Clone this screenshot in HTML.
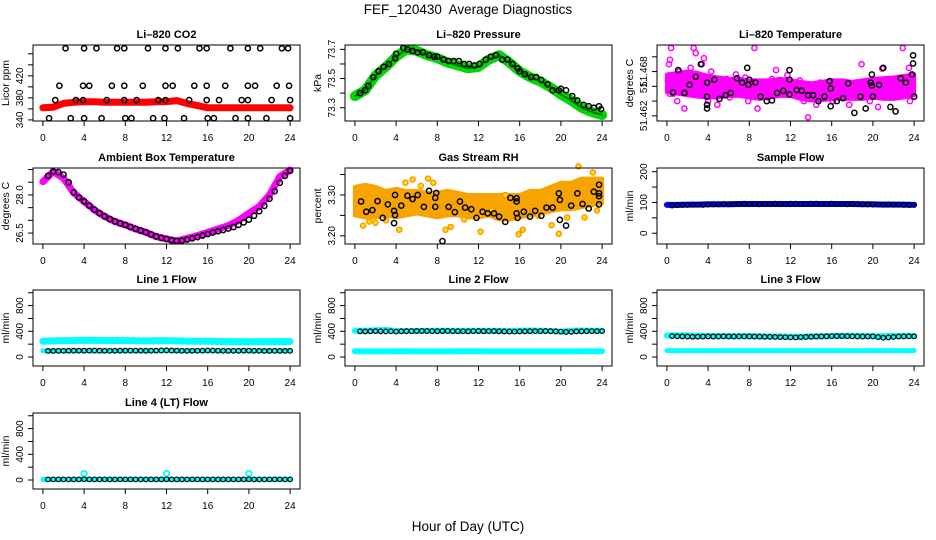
<!DOCTYPE html>
<html><head><meta charset="utf-8"><style>
html,body{margin:0;padding:0;background:#fff;}
svg{display:block;font-family:"Liberation Sans",Arial,sans-serif;}
</style></head><body>
<svg id="chart" width="936" height="540" viewBox="0 0 936 540">
<rect x="0" y="0" width="936" height="540" fill="#fff"/>
<text x="468" y="14" text-anchor="middle" font-size="13.5">FEF_120430&#160; Average Diagnostics</text>
<text x="468" y="531" text-anchor="middle" font-size="13.5">Hour of Day (UTC)</text>
</svg>
<script>
// ---- data ----
const hourT = [0,1,2,3,4,5,6,7,8,9,10,11,12,13,14,15,16,17,18,19,20,21,22,23,24];
const halfT = [0.5,1,1.5,2,2.5,3,3.5,4,4.5,5,5.5,6,6.5,7,7.5,8,8.5,9,9.5,10,10.5,11,11.5,12,12.5,13,13.5,14,14.5,15,15.5,16,16.5,17,17.5,18,18.5,19,19.5,20,20.5,21,21.5,22,22.5,23,23.5,24];
const xTicks = [0,4,8,12,16,20,24];

const co2Red = [362,363,370,372,373,373,372,372,372,372,372,373,373,375,370,366,362,362,362,362,362,362,362,362,362];
const co2BlackX = [2.2,4.0,5.2,7.2,7.9,10.2,11.9,13.1,15.2,15.9,18.2,19.9,21.1,23.2,23.8,
 1.6,3.9,4.5,6.7,7.9,9.7,11.9,12.6,14.7,15.9,17.7,19.9,20.6,22.7,23.9,
 1.2,3.2,3.9,6.2,7.9,9.1,11.2,11.9,14.2,15.9,17.1,19.3,19.9,22.2,24.0,
 0.6,2.7,4.0,5.7,8.0,8.6,10.7,11.8,13.7,16.0,16.6,18.7,19.9,21.7,24.0];
const co2BlackY = [470,470,470,470,470,470,470,470,470,470,470,470,470,470,470,
 402,402,402,402,402,402,402,402,402,402,402,402,402,402,402,
 376,376,376,376,376,376,376,376,376,376,376,376,376,376,376,
 343,343,343,343,343,343,343,343,343,343,343,343,343,343,343];

const pressGreen = [73.38,73.42,73.52,73.58,73.65,73.70,73.69,73.66,73.64,73.61,73.59,73.57,73.58,73.63,73.66,73.61,73.55,73.51,73.48,73.44,73.39,73.35,73.30,73.27,73.25];
const pressBlackX = [0.5,1,1.3,1.8,2.3,2.8,3.3,3.9,4,4.7,5.1,5.6,6.1,6.6,7.2,7.7,8,8.6,9.1,9.6,10.1,10.6,11.1,11.6,12.1,12.7,13.2,13.7,14.3,14.8,15.3,15.8,16,16.5,17.1,17.6,18.1,18.7,19.2,19.8,20,20.5,21.1,21.6,22.2,22.7,23.2,23.7,23.9];
const pressBlackY = [73.40,73.42,73.45,73.51,73.55,73.58,73.60,73.64,73.67,73.71,73.70,73.69,73.68,73.68,73.66,73.65,73.65,73.63,73.62,73.62,73.62,73.60,73.60,73.59,73.60,73.63,73.65,73.66,73.63,73.63,73.60,73.57,73.55,73.53,73.51,73.51,73.49,73.46,73.42,73.42,73.43,73.42,73.38,73.35,73.32,73.31,73.30,73.31,73.29];

const tempUpper = [51.4676,51.4678,51.4680,51.4678,51.4674,51.4672,51.4670,51.4670,51.4668,51.4668,51.4668,51.4670,51.4668,51.4666,51.4664,51.4666,51.4668,51.4668,51.4666,51.4668,51.4670,51.4671,51.4672,51.4674,51.4676];
const tempLower = [51.4652,51.4650,51.4648,51.4646,51.4645,51.4645,51.4647,51.4647,51.4645,51.4643,51.4645,51.4647,51.4647,51.4643,51.4641,51.4641,51.4643,51.4643,51.4643,51.4643,51.4645,51.4643,51.4643,51.4645,51.4648];
const tempMagX = [0.1,0.2,0.3,0.4,0.5,0.6,0.8,1,1.2,1.5,1.7,1.9,2.1,2.3,2.6,2.8,3,3.2,3.4,3.6,3.8,4,4.3,4.6,4.9,5.2,5.5,5.8,6.1,6.4,6.7,7,7.3,7.6,7.9,8.2,8.5,8.8,9.1,9.4,9.8,10.2,10.6,11,11.3,11.7,12.1,12.5,12.9,13.3,13.7,14.1,14.5,14.9,15.3,15.7,16.1,16.5,16.9,17.3,17.7,18.1,18.5,18.9,19.3,19.7,20.1,20.5,20.9,21.3,21.7,22.1,22.5,22.9,23.2,23.5,23.8,23.6,0.3];
const tempMagY = [51.4668,51.4690,51.4696,51.4712,51.4660,51.4650,51.4672,51.4640,51.4680,51.4655,51.4630,51.4662,51.4675,51.4685,51.4712,51.4705,51.4670,51.4648,51.4690,51.4698,51.4660,51.4640,51.4680,51.4652,51.4635,51.4666,51.4658,51.4670,51.4645,51.4662,51.4676,51.4650,51.4664,51.4672,51.4640,51.4660,51.4712,51.4630,51.4650,51.4662,51.4645,51.4670,51.4682,51.4668,51.4650,51.4675,51.4660,51.4648,51.4668,51.4640,51.4618,51.4660,51.4635,51.4665,51.4650,51.4663,51.4640,51.4657,51.4648,51.4665,51.4635,51.4660,51.4645,51.4690,51.4655,51.4640,51.4668,51.4632,51.4684,51.4658,51.4645,51.4666,51.4650,51.4712,51.4670,51.4685,51.4660,51.4640,51.4650];
const tempBlackX = [0.6,1.1,1.7,2.2,2.8,3.3,3.9,3.9,3.9,3.9,4.6,5.1,5.7,6.2,6.8,7.3,7.8,7.9,8.0,8.6,9.1,9.7,10.2,10.7,11.3,11.9,11.9,11.9,12.6,13.1,13.7,14.2,14.7,15.3,15.8,15.9,15.9,16.5,17.1,17.6,18.2,18.8,19.3,19.9,19.8,19.9,20.0,20.6,21.0,21.7,22.2,22.7,23.2,23.8,23.9,23.9,24.0];
const tempBlackY = [51.4652,51.4682,51.4651,51.4662,51.4673,51.4690,51.4646,51.4635,51.4630,51.4665,51.4669,51.4643,51.4648,51.4651,51.4671,51.4665,51.4685,51.4662,51.4669,51.4665,51.4646,51.4640,51.4641,51.4651,51.4654,51.4669,51.4682,51.4649,51.4655,51.4654,51.4648,51.4648,51.4640,51.4646,51.4667,51.4657,51.4633,51.4640,51.4644,51.4664,51.4624,51.4646,51.4630,51.4676,51.4665,51.4661,51.4646,51.4662,51.4685,51.4632,51.4626,51.4671,51.4665,51.4676,51.4691,51.4702,51.4646];

const ambMagenta = [28.52,28.92,28.66,28.08,27.74,27.41,27.15,26.95,26.82,26.66,26.53,26.36,26.27,26.19,26.29,26.40,26.53,26.66,26.79,27.00,27.28,27.54,28.00,28.72,28.98];
const ambBlack = [28.75,28.92,28.90,28.80,28.50,28.10,27.90,27.75,27.58,27.42,27.28,27.16,27.05,26.96,26.88,26.82,26.74,26.67,26.60,26.53,26.45,26.37,26.31,26.27,26.22,26.19,26.20,26.24,26.29,26.34,26.40,26.46,26.52,26.57,26.62,26.68,26.74,26.82,26.92,27.03,27.18,27.36,27.57,27.85,28.15,28.48,28.75,28.95];

const rhUpper = [3.32,3.325,3.32,3.31,3.315,3.31,3.31,3.305,3.305,3.31,3.305,3.30,3.30,3.30,3.30,3.30,3.30,3.31,3.31,3.32,3.33,3.33,3.34,3.34,3.34];
const rhLower = [3.25,3.245,3.245,3.25,3.245,3.25,3.255,3.25,3.245,3.25,3.25,3.245,3.245,3.25,3.24,3.24,3.245,3.25,3.255,3.26,3.265,3.265,3.27,3.275,3.28];
const rhOrangeX = [0.8,1.4,2.0,3.0,4.3,4.9,5.6,6.4,7.1,7.6,8.8,9.3,10.6,12.2,13.3,14.6,15.9,16.3,17.8,19.1,19.8,20.6,21.7,22.3,23.1,23.5];
const rhOrangeY = [3.225,3.235,3.232,3.238,3.215,3.33,3.338,3.322,3.34,3.33,3.215,3.222,3.24,3.21,3.262,3.30,3.204,3.215,3.25,3.226,3.205,3.245,3.37,3.245,3.355,3.262];
const rhBlackX = [0.6,1.1,1.7,2.2,2.7,3.2,3.8,3.9,3.9,3.8,4.5,5.1,5.6,6.1,6.7,7.2,7.8,7.8,7.9,8.5,9.1,9.7,10.2,10.7,11.3,11.8,12.4,12.9,13.5,14.0,14.6,15.1,15.7,15.7,15.7,15.8,16.4,17.0,17.5,18.1,18.6,19.2,19.8,19.9,19.9,20.5,21.0,21.6,22.1,22.7,23.2,23.7,23.7,23.7,23.7];
const rhBlackY = [3.284,3.259,3.263,3.285,3.244,3.277,3.261,3.300,3.251,3.231,3.274,3.298,3.290,3.300,3.271,3.310,3.293,3.271,3.305,3.187,3.271,3.258,3.284,3.269,3.265,3.244,3.259,3.255,3.255,3.247,3.234,3.293,3.292,3.284,3.255,3.244,3.259,3.247,3.261,3.249,3.269,3.269,3.304,3.288,3.239,3.225,3.274,3.304,3.278,3.267,3.308,3.325,3.304,3.297,3.277];

const sampleBlue = [92,92,93,93,94,94,94,95,95,95,95,95,95,95,95,95,95,95,95,94,94,93,93,93,92];
const sampleBlack = [90,91,92,92,93,93,92,93,94,94,95,94,95,95,96,95,95,94,95,95,96,95,95,96,96,95,95,96,96,95,95,96,95,95,94,95,95,94,94,93,93,94,94,93,93,92,92,93];

const l1CyanHigh = [245,250,255,255,260,258,255,258,255,252,250,252,255,250,248,245,245,242,240,240,238,240,240,240,242];
const l1CyanLow = [95,95,96,96,97,96,96,97,97,98,98,97,97,97,97,98,98,97,97,97,96,96,96,96,96];
const l1Black = [95,95,96,96,97,98,98,98,99,100,98,97,96,97,98,99,100,99,98,97,98,99,102,104,100,98,97,96,97,98,99,102,100,98,97,96,96,97,98,99,97,96,95,95,96,95,95,96];

const l2CyanHigh = [410,408,415,420,405,405,406,406,408,408,407,407,406,406,405,405,410,412,410,405,395,410,412,410,410];
const l2CyanLow = [90,88,88,88,90,90,88,88,88,88,90,90,90,88,88,88,88,88,88,88,88,88,90,90,90];
const l2Black = [400,398,400,402,400,398,401,395,400,402,403,404,405,404,403,402,404,405,403,402,401,400,403,404,402,403,404,400,398,396,395,398,400,402,402,403,404,402,400,395,390,392,398,400,402,403,402,403];

const l3CyanHigh = [335,340,335,330,328,325,325,325,325,322,320,318,318,315,320,322,325,328,330,330,320,325,330,330,325];
const l3CyanLow = [100,100,100,100,100,100,100,100,100,100,100,100,100,100,100,100,100,100,100,100,100,100,100,100,100];
const l3Black = [325,322,320,318,315,316,318,320,318,320,322,320,318,320,321,320,318,316,315,314,312,310,308,306,305,310,312,315,318,320,322,325,326,325,324,322,320,318,320,322,310,300,305,312,318,320,322,322];

const l4Cyan = [8,8,8,8,8,8,8,8,8,8,8,8,8,8,8,8,8,8,8,8,8,8,8,8,8];
const l4SpikeT = [4,12,20];
const l4SpikeV = [100,100,100];
const l4Black = [10,10,10,10,10,10,10,12,10,10,10,10,10,10,10,10,10,10,10,10,10,10,10,12,10,10,10,10,10,10,10,10,10,10,10,10,10,10,10,12,10,10,10,10,10,10,10,10];

// ---- drawing ----
const NS = 'http://www.w3.org/2000/svg';
const svg = document.getElementById('chart');
const PW = 267, PH = 76;
function el(tag, attrs, parent) {
  const e = document.createElementNS(NS, tag);
  for (const k in attrs) e.setAttribute(k, attrs[k]);
  parent.appendChild(e);
  return e;
}
function sx(p, h) { return p.x0 + (h + 0.96) / 25.92 * PW; }
function sy(p, v) { return p.y0 + PH - (v - p.ylo) / (p.yhi - p.ylo) * PH; }

function panel(p) {
  const g = el('g', {}, svg);
  
  
  p.g = el('g', {}, g);
  
  
  const t = el('text', {x: p.x0 + PW / 2, y: p.y0 - 7, 'text-anchor': 'middle', 'font-size': 11, 'font-weight': 'bold'}, g);
  t.textContent = p.title;
  
  
  const box = el('rect', {x: p.x0, y: p.y0, width: PW, height: PH, fill: 'none', stroke: '#000', 'stroke-width': 1}, g);
  
  
  const xa = el('g', {}, g);
  
  
  el('line', {x1: sx(p, xTicks[0]), x2: sx(p, xTicks[xTicks.length - 1]), y1: p.y0 + PH, y2: p.y0 + PH, stroke: '#000'}, xa);
  xTicks.forEach(v => {
    el('line', {x1: sx(p, v), x2: sx(p, v), y1: p.y0 + PH, y2: p.y0 + PH + 5, stroke: '#000'}, xa);
    const tl = el('text', {x: sx(p, v), y: p.y0 + PH + 20, 'text-anchor': 'middle', 'font-size': 10}, xa);
    tl.textContent = String(v);
    
    
  });
  const ya = el('g', {}, g);
  
  
  el('line', {x1: p.x0, x2: p.x0, y1: sy(p, p.ticks[0]), y2: sy(p, p.ticks[p.ticks.length - 1]), stroke: '#000'}, ya);
  p.ticks.forEach((v, i) => {
    const y = sy(p, v);
    el('line', {x1: p.x0 - 5, x2: p.x0, y1: y, y2: y, stroke: '#000'}, ya);
    if (p.labels[i]) {
      const yl = el('text', {x: p.x0 - 10, y: y, 'text-anchor': 'middle', 'font-size': 10, transform: 'rotate(-90 ' + (p.x0 - 10) + ' ' + y + ')'}, ya);
      yl.textContent = p.labels[i];
      
      
    }
  });
  const cy = p.y0 + PH / 2;
  const yt = el('text', {x: p.x0 - 24, y: cy, 'text-anchor': 'middle', 'font-size': 10.5, transform: 'rotate(-90 ' + (p.x0 - 24) + ' ' + cy + ')'}, g);
  yt.textContent = p.ylab;
  
  
}

function points(p, xs, ys, color, name, fill, r, sw) {
  const g = el('g', {}, p.g);
  
  
  xs.forEach((x, i) => {
    const c = el('circle', {cx: sx(p, x), cy: sy(p, ys[i]), r: r || 2.6, fill: fill || 'none', stroke: color, 'stroke-width': sw || 1.5}, g);
    
    
  });
}
function band(p, xs, ys, color, width, name) {
  const d = xs.map((x, i) => (i ? 'L' : 'M') + sx(p, x).toFixed(1) + ',' + sy(p, ys[i]).toFixed(1)).join('');
  const path = el('path', {d: d, fill: 'none', stroke: color, 'stroke-width': width, 'stroke-linejoin': 'round', 'stroke-linecap': 'round'}, p.g);
  
  
}
function area(p, xs, up, lo, color, name) {
  let d = xs.map((x, i) => (i ? 'L' : 'M') + sx(p, x).toFixed(1) + ',' + sy(p, up[i]).toFixed(1)).join('');
  for (let i = xs.length - 1; i >= 0; i--) d += 'L' + sx(p, xs[i]).toFixed(1) + ',' + sy(p, lo[i]).toFixed(1);
  const path = el('path', {d: d + 'Z', fill: color, stroke: color, 'stroke-width': 4, 'stroke-linejoin': 'round'}, p.g);
  
  
}

const C1 = 33, C2 = 345, C3 = 657, R1 = 45, R2 = 168, R3 = 290, R4 = 413;
const flowTicks = [0, 200, 400, 600, 800, 1000];
const flowLabels = ['0', '', '400', '', '800', ''];

const pCO2 = {name: 'co2', title: 'Li\u2013820 CO2', ylab: 'Licor ppm', x0: C1, y0: R1, ylo: 338, yhi: 476, ticks: [340,360,380,400,420,440,460], labels: ['340','','380','','420','','']};
panel(pCO2);
band(pCO2, hourT, co2Red, '#ff0000', 7, 'co2-red-series');
points(pCO2, co2BlackX, co2BlackY, '#000', 'co2-black-series');

const pPr = {name: 'pressure', title: 'Li\u2013820 Pressure', ylab: 'kPa', x0: C2, y0: R1, ylo: 73.209, yhi: 73.73, ticks: [73.3,73.4,73.5,73.6,73.7], labels: ['73.3','','73.5','','73.7']};
panel(pPr);
band(pPr, hourT, pressGreen, '#00d800', 10, 'pressure-green-series');
band(pPr, hourT, pressGreen, '#007a00', 2, 'pressure-green-core');
points(pPr, pressBlackX, pressBlackY, '#000', 'pressure-black-series');

const pT = {name: 'temperature', title: 'Li\u2013820 Temperature', ylab: 'degrees C', x0: C3, y0: R1, ylo: 51.4613, yhi: 51.4716, ticks: [51.462,51.464,51.466,51.468,51.470], labels: ['51.462','','51.','51.468','']};
panel(pT);
area(pT, hourT, tempUpper, tempLower, '#ff00ff', 'temperature-magenta-band');
points(pT, tempMagX, tempMagY, '#ff00ff', 'temperature-magenta-series');
points(pT, tempBlackX, tempBlackY, '#000', 'temperature-black-series');

const pA = {name: 'ambient', title: 'Ambient Box Temperature', ylab: 'degrees C', x0: C1, y0: R2, ylo: 26.07, yhi: 29.06, ticks: [26.5,27,27.5,28,28.5,29], labels: ['26.5','','','28.0','','']};
panel(pA);
band(pA, hourT, ambMagenta, '#ff00ff', 7, 'ambient-magenta-series');
points(pA, halfT, ambBlack, '#000', 'ambient-black-series');

const pRH = {name: 'rh', title: 'Gas Stream RH', ylab: 'percent', x0: C2, y0: R2, ylo: 3.180, yhi: 3.366, ticks: [3.20,3.25,3.30,3.35], labels: ['3.20','','3.30','']};
panel(pRH);
area(pRH, hourT, rhUpper, rhLower, '#f7a400', 'rh-orange-band');
points(pRH, rhOrangeX, rhOrangeY, '#ff8c00', 'rh-orange-series', '#ffe000', 2.6, 1.3);
points(pRH, rhBlackX, rhBlackY, '#000', 'rh-black-series');

const pS = {name: 'sample-flow', title: 'Sample Flow', ylab: 'ml/min', x0: C3, y0: R2, ylo: -35, yhi: 212, ticks: [0,50,100,150,200], labels: ['0','','100','','200']};
panel(pS);
band(pS, hourT, sampleBlue, '#0000ff', 6, 'sample-flow-blue-series');
points(pS, halfT, sampleBlack, '#000', 'sample-flow-black-series', 'none', 2.3, 1.2);

const pL1 = {name: 'line1-flow', title: 'Line 1 Flow', ylab: 'ml/min', x0: C1, y0: R3, ylo: -140, yhi: 1043, ticks: flowTicks, labels: flowLabels};
panel(pL1);
band(pL1, hourT, l1CyanHigh, '#00ffff', 7, 'line1-cyan-high');
band(pL1, hourT, l1CyanLow, '#00ffff', 5, 'line1-cyan-low');
points(pL1, halfT, l1Black, '#000', 'line1-black-series', 'none', 2.3, 1.2);

const pL2 = {name: 'line2-flow', title: 'Line 2 Flow', ylab: 'ml/min', x0: C2, y0: R3, ylo: -140, yhi: 1043, ticks: flowTicks, labels: flowLabels};
panel(pL2);
band(pL2, hourT, l2CyanHigh, '#00ffff', 6, 'line2-cyan-high');
band(pL2, hourT, l2CyanLow, '#00ffff', 6, 'line2-cyan-low');
points(pL2, halfT, l2Black, '#000', 'line2-black-series', 'none', 2.3, 1.2);

const pL3 = {name: 'line3-flow', title: 'Line 3 Flow', ylab: 'ml/min', x0: C3, y0: R3, ylo: -140, yhi: 1043, ticks: flowTicks, labels: flowLabels};
panel(pL3);
band(pL3, hourT, l3CyanHigh, '#00ffff', 6, 'line3-cyan-high');
band(pL3, hourT, l3CyanLow, '#00ffff', 5, 'line3-cyan-low');
points(pL3, halfT, l3Black, '#000', 'line3-black-series', 'none', 2.3, 1.2);

const pL4 = {name: 'line4-flow', title: 'Line 4 (LT) Flow', ylab: 'ml/min', x0: C1, y0: R4, ylo: -140, yhi: 1043, ticks: flowTicks, labels: flowLabels};
panel(pL4);
band(pL4, hourT, l4Cyan, '#00ffff', 5, 'line4-cyan-series');
points(pL4, l4SpikeT, l4SpikeV, '#00ffff', 'line4-cyan-spikes', 'none', 2.8, 1.8);
points(pL4, halfT, l4Black, '#000', 'line4-black-series', 'none', 2.3, 1.2);
</script>
</body></html>
